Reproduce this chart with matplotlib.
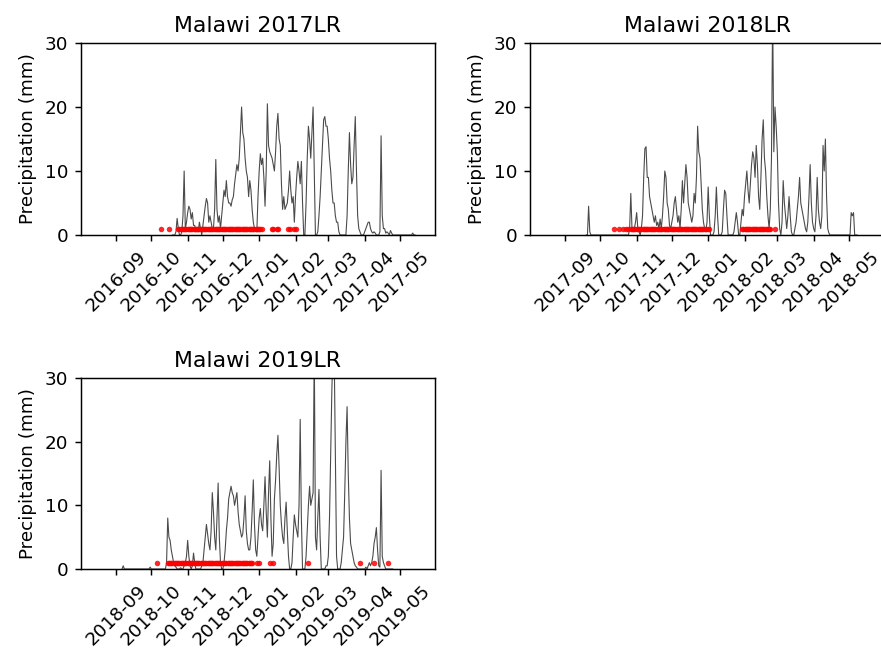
import numpy as np
import matplotlib
matplotlib.use("Agg")
import matplotlib.pyplot as plt
import matplotlib.dates as mdates

titles = ["Malawi 2017LR", "Malawi 2018LR", "Malawi 2019LR"]
season_origin = ["2016-09-01", "2017-09-01", "2018-09-01"]  # day 0 of each season
view_start = ["2016-08-02", "2017-08-02", "2018-08-02"]
view_end = ["2017-05-31", "2018-05-31", "2019-05-31"]

# daily precipitation (mm); first value is at day `first_day` after the season origin
first_day_2017 = 48
rain_2017 = [
    0, 0, 0, 0.5, 2.6, 1.0, 0, 0, 0.5, 3,
    10, 1, 2, 3.5, 4.5, 4, 2.5, 3.5, 1.5, 1.5,
    0.5, 1, 0.5, 2, 1, 0, 1.5, 3, 4.5, 5.7,
    5, 2, 3, 2, 1, 1, 4, 11.8, 4, 2,
    3, 1, 3, 5, 7, 6, 8.5, 6, 5, 5,
    4.5, 5.5, 6, 8, 9.5, 11, 10, 12, 16, 20,
    16, 15, 12, 10, 9, 6, 8.5, 7, 4, 2,
    1, 1, 0.5, 6, 10, 12.7, 11, 12, 9, 4.5,
    10, 20.5, 14, 13, 12.5, 12, 11, 10, 13, 17,
    19, 15, 14, 8, 4, 6, 4, 4.5, 5, 7,
    10, 7, 5, 6, 2, 6, 9, 11.5, 10, 8,
    11.5, 5, 0, 0, 5, 12, 17, 15, 12, 16,
    20, 10, 0, 0, 0.5, 3, 6, 10, 14, 18,
    18.5, 17, 17, 15, 12, 10, 7, 5, 5, 3,
    2, 2, 0.5, 0, 0, 0, 0, 0, 0, 3,
    10, 16, 11, 8, 9, 14, 18.5, 10, 3, 1,
    0.5, 0, 0, 0, 0.5, 1, 1.5, 2, 2, 1,
    0.5, 0.3, 0.5, 0.3, 0, 0, 0, 0.5, 15.5, 3,
    1, 1, 0.3, 0.5, 0.3, 0, 0.7, 0.3, 0, 0,
    0, 0, 0, 0, 0, 0, 0, 0, 0, 0,
    0, 0, 0, 0, 0, 0.3, 0, 0,
]

first_day_2018 = 18
rain_2018 = [
    0, 0, 4.5, 0.5, 0, 0, 0, 0, 0, 0,
    0, 0, 0, 0, 0, 0, 0, 0, 0, 0,
    0, 0, 0, 0, 0, 0, 0, 0, 0, 0,
    0, 0, 0, 0, 0, 0,
    0, 1, 6.5, 1, 0.5, 1, 2, 3.5, 1, 0.5,
    0, 1, 3, 9, 13.5, 13.8, 9, 9, 6, 5,
    4, 3, 2, 3, 1.5, 2, 1, 2.5, 1, 3,
    6, 10, 9, 5, 4, 1.5, 1, 2, 3, 5,
    6, 4, 2, 3, 1, 4, 8.5, 5, 8, 11,
    9, 5, 4, 3, 2, 3, 6.5, 5, 9, 17,
    13, 12, 8, 4, 2, 1, 0.5, 2, 7.5, 3,
    0, 0, 0, 0.5, 3, 7.5, 3, 0, 0, 0,
    0.5, 4, 7, 6.5, 3, 0, 0, 0, 0, 0,
    0.5, 2, 3.5, 2, 0, 0, 2, 4, 3, 6,
    8, 10, 7, 5, 8, 11, 13, 12, 9, 14,
    11, 6, 4, 9, 15, 18, 12, 10, 6, 3,
    1, 4, 12, 35, 13, 20, 17, 13, 5, 1,
    0, 2, 8.5, 5, 3, 1, 3, 6, 3, 0.5,
    0, 0, 1, 2, 4, 6, 9, 5, 4, 3,
    2, 1, 0.5, 2, 6, 11, 5, 2, 1, 0.5,
    3, 9, 4, 2, 1, 3, 14, 10, 15, 6,
    1, 0.3, 0, 0, 0, 0, 0, 0, 0, 0,
    0, 0, 0, 0, 0, 0, 0, 0, 0, 0,
    3.5, 3, 3.5, 0, 0, 0,
]

first_day_2019 = 5
rain_2019 = [
    0, 0.5, 0, 0, 0, 0, 0, 0, 0, 0,
    0, 0, 0, 0, 0, 0, 0, 0, 0, 0,
    0, 0, 0, 0, 0.3, 0, 0, 0, 0, 0,
    0, 0, 0, 0, 0, 0, 0,
    0, 1, 8, 5, 4.5, 3, 2, 1, 0.5, 0.3,
    0, 0, 0, 0.2, 0, 0, 0.5, 1, 2, 4.5,
    2, 0.5, 0, 0.5, 2.5, 1, 0, 0, 0, 0,
    0, 0.5, 1, 3, 5, 7, 5.5, 4, 3, 6,
    12, 9, 5, 3, 8, 13.5, 5, 1, 0, 0,
    1, 3, 6, 8, 11, 12, 13, 12, 11.5, 10,
    11, 12, 9, 7, 6, 5, 5.5, 8, 11.5, 6,
    4, 3, 3, 5, 9, 14, 7, 3, 2, 5,
    8, 9.5, 7, 6, 10, 14.5, 9, 5, 12, 17,
    8, 2, 4, 11, 14, 18, 21, 16, 10, 7,
    5, 4, 8, 10.5, 6, 2, 0, 0, 1, 5,
    8.5, 7, 6, 5, 10, 23.5, 8, 0, 0, 0,
    2, 6, 10, 13, 10, 11, 12, 35, 5, 3,
    8, 12.5, 5, 0, 0, 0, 0, 0.5, 0.5, 2,
    8, 18, 28, 35, 34, 18, 2, 0, 0, 0,
    1, 3, 5, 12, 20, 25.5, 15, 8, 4, 3,
    2, 1, 0.5, 0.3, 0, 0, 0, 0, 0, 0,
    0, 0.3, 0, 0.5, 1, 0.5, 1, 2, 4, 5,
    6.5, 3, 0.5, 0.3, 15.5, 2, 1, 0.5, 0, 0,
    0, 0, 0, 0, 0,
]

# days (after season origin) flagged with a red marker at 1 mm
flag_days_2017 = [38, 45] + list(range(53, 125)) + [133, 134, 137, 138, 147, 148, 152, 153]
flag_days_2018 = [42, 46, 49, 52, 54] + list(range(56, 121)) + [122, 123] + list(range(151, 176)) + [179]
flag_days_2019 = [35] + list(range(44, 117)) + [120, 122, 131, 134, 164, 208, 220, 232]

first_days = [first_day_2017, first_day_2018, first_day_2019]
rains = [rain_2017, rain_2018, rain_2019]
flags = [flag_days_2017, flag_days_2018, flag_days_2019]
flag_level = 1.0

W, H = 881, 660
dpi = 132
fig = plt.figure(figsize=(W / dpi, H / dpi), dpi=dpi)

boxes = [  # left, top, right, bottom in pixels
    (81, 43, 435, 235),
    (530, 43, 884, 235),
    (81, 378, 435, 569),
]

for i in range(3):
    l, t, r, b = boxes[i]
    ax = fig.add_axes([l / W, 1 - b / H, (r - l) / W, (b - t) / H])
    origin = np.datetime64(season_origin[i])
    vals = np.array(rains[i], dtype=float)
    dates = origin + np.timedelta64(first_days[i], "D") + np.arange(len(vals)).astype("timedelta64[D]")
    ax.plot(dates, vals, color="#4a4a4a", lw=0.6)
    fdates = origin + np.array(flags[i]).astype("timedelta64[D]")
    ax.plot(fdates, np.full(len(fdates), flag_level), ".", color="red",
            markersize=6, markeredgewidth=0, alpha=0.85)
    ax.set_ylim(0, 30)
    ax.set_yticks([0, 10, 20, 30])
    ax.set_xlim(np.datetime64(view_start[i]), np.datetime64(view_end[i]))
    ax.xaxis.set_major_locator(mdates.MonthLocator())
    ax.xaxis.set_major_formatter(mdates.DateFormatter("%Y-%m"))
    ax.set_ylabel("Precipitation (mm)")
    ax.set_title(titles[i])
    for lab in ax.get_xticklabels():
        lab.set_rotation(45)

fig.savefig("out.png", dpi=dpi)
